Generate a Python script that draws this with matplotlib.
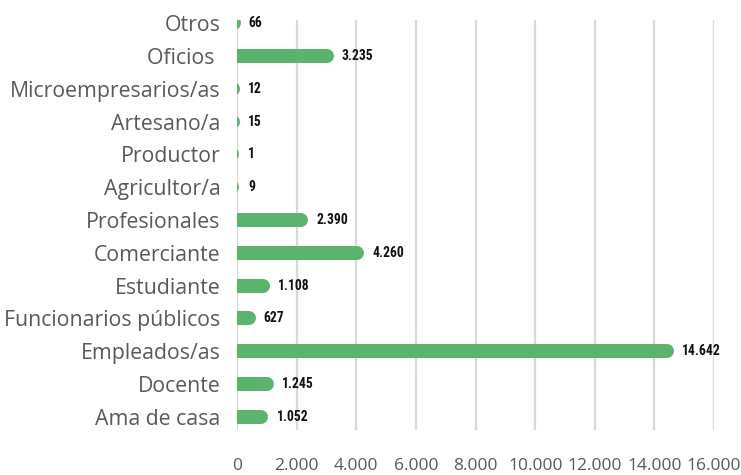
import matplotlib.pyplot as plt
from matplotlib.ticker import FuncFormatter

# datos (de abajo hacia arriba)
categorias = ["Ama de casa", "Docente", "Empleados/as", "Funcionarios públicos",
              "Estudiante", "Comerciante", "Profesionales", "Agricultor/a",
              "Productor", "Artesano/a", "Microempresarios/as", "Oficios ", "Otros"]
valores = [1052, 1245, 14642, 627, 1108, 4260, 2390, 9, 1, 15, 12, 3235, 66]
ticks_x = list(range(0, 16001, 2000))

verde = "#5bb46c"
gris = "#595959"


def miles(v):
    return f"{int(v):,}".replace(",", ".")


fig = plt.figure(figsize=(7.41, 4.75), dpi=100)
ax = fig.add_axes([0.32, 0.095, 0.6436, 0.863])
ax.set_xlim(0, 16000)
ax.set_ylim(-0.4, len(categorias) - 1 + 0.1)

# ancho de barra en px -> radio del extremo redondeado en datos
ancho_px = 14
lw = ancho_px * 72 / fig.dpi
ax_px = ax.get_position().width * fig.get_figwidth() * fig.dpi
radio = (ancho_px / 2) * 16000 / ax_px

for i, v in enumerate(valores):
    visible = v + 70 if v < 200 else v  # valores pequeños: un trazo mínimo
    ax.plot([-radio * 2, visible - radio], [i, i], color=verde, lw=lw,
            solid_capstyle="round", zorder=3)
    ax.text(max(v, 100) + 270, i, miles(v), va="center", ha="left",
            fontsize=9.8, fontweight="bold", color="#111111", stretch="condensed",
            family=["Roboto Condensed", "DejaVu Sans"])

ax.set_yticks(range(len(categorias)))
ax.set_yticklabels(categorias, fontsize=15.3, color=gris, family="Open Sans")
ax.set_xticks(ticks_x)
ax.xaxis.set_major_formatter(FuncFormatter(lambda v, p: miles(v)))
for lab in ax.get_xticklabels():
    lab.set_family("Open Sans")
    lab.set_fontsize(12.5)
    lab.set_color(gris)

ax.tick_params(axis="y", length=0, pad=12)
ax.tick_params(axis="x", length=0, pad=20)
ax.grid(axis="x", color="#d9d9d9", lw=1.6)
ax.set_axisbelow(True)
for s in ax.spines.values():
    s.set_visible(False)

fig.savefig("out.png", dpi=100)
